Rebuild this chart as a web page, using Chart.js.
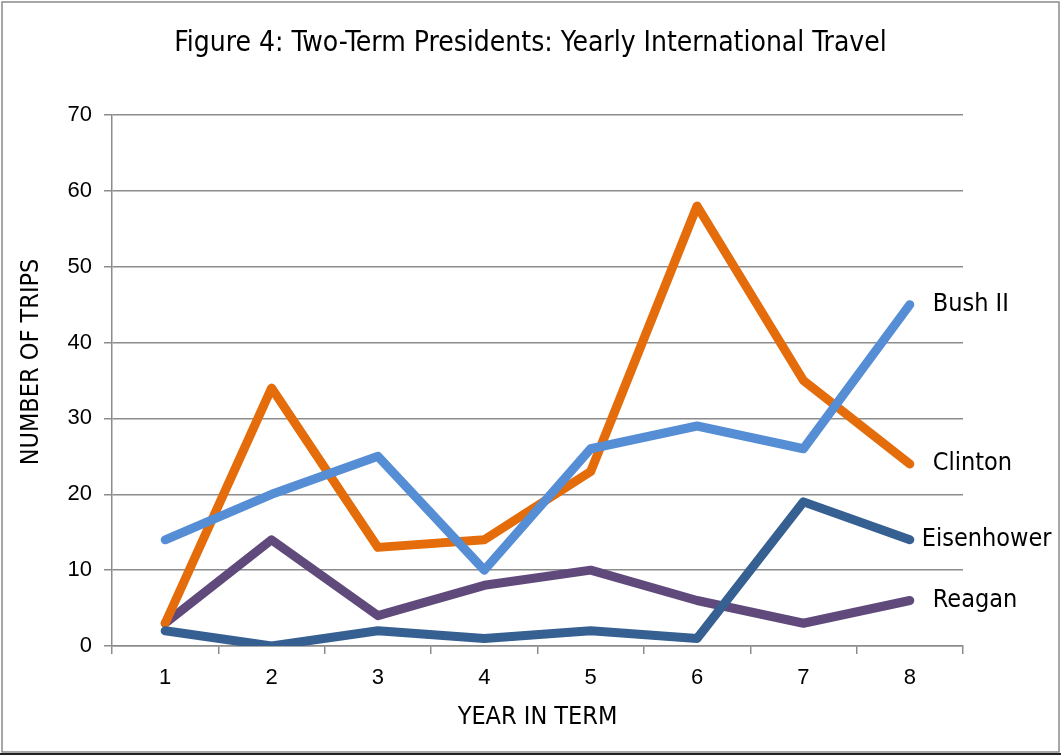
<!DOCTYPE html>
<html>
<head>
<meta charset="utf-8">
<title>Two-Term Presidents: Yearly International Travel</title>
<script src="https://cdn.jsdelivr.net/npm/chart.js@4.4.1/dist/chart.umd.min.js"></script>
<style>
    html, body { margin: 0; padding: 0; background: #ffffff; }
    #wrap { position: relative; width: 1061px; height: 756px; }
</style>
</head>
<body>
<div id="wrap"><canvas id="travelChart" width="1061" height="756"></canvas></div>
<script>
// Years of each two-term presidency
const years = ['1', '2', '3', '4', '5', '6', '7', '8'];

// International trips per year in office
const eisenhower = [2, 0, 2, 1, 2, 1, 19, 14];
const bush = [14, 20, 25, 10, 26, 29, 26, 45];
const clinton = [3, 34, 13, 14, 23, 58, 35, 24];
const reagan = [3, 14, 4, 8, 10, 6, 3, 6];

const yTicks = [0, 10, 20, 30, 40, 50, 60, 70];

const chartTitle = 'Figure 4: Two-Term Presidents: Yearly International Travel';
const yTitle = 'NUMBER OF TRIPS';

const narrowFont = "'DejaVu Sans Condensed', 'Liberation Sans', sans-serif";
const numFont = "'Liberation Sans', Arial, sans-serif";
const gridGray = '#8c8c8c';

// Figure title and the rotated y-axis title
const figureTexts = {
    id: 'figureTexts',
    afterDraw(chart) {
        const ctx = chart.ctx;
        ctx.save();
        ctx.fillStyle = '#000000';
        ctx.textAlign = 'center';
        ctx.textBaseline = 'middle';
        ctx.font = '28px ' + narrowFont;
        ctx.fillText(chartTitle, chart.width / 2, 44);

        ctx.font = '25px ' + narrowFont;
        ctx.translate(31, 362);
        ctx.rotate(-Math.PI / 2);
        ctx.fillText(yTitle, 0, 0);
        ctx.restore();
    }
};

// Draws each series name just right of its last point
const endLabels = {
    id: 'endLabels',
    afterDatasetsDraw(chart) {
        const ctx = chart.ctx;
        ctx.save();
        ctx.font = '25px ' + narrowFont;
        ctx.fillStyle = '#000000';
        ctx.textBaseline = 'middle';
        ctx.textAlign = 'left';
        chart.data.datasets.forEach((ds, i) => {
            const pts = chart.getDatasetMeta(i).data;
            const last = pts[pts.length - 1];
            ctx.fillText(ds.label, last.x + (ds.labelGap || 23), last.y);
        });
        ctx.restore();
    }
};

// Outer frame around the figure
const frame = {
    id: 'frame',
    afterDraw(chart) {
        const ctx = chart.ctx;
        ctx.save();
        ctx.strokeStyle = '#8a8a8a';
        ctx.lineWidth = 1.5;
        ctx.strokeRect(2, 2, chart.width - 4, chart.height - 6);
        ctx.strokeStyle = '#222222';
        ctx.lineWidth = 2;
        ctx.beginPath();
        ctx.moveTo(0, chart.height - 2);
        ctx.lineTo(chart.width, chart.height - 2);
        ctx.stroke();
        ctx.restore();
    }
};

const lineStyle = {
    borderWidth: 9,
    borderCapStyle: 'round',
    borderJoinStyle: 'round',
    pointRadius: 0,
    pointHoverRadius: 0,
    tension: 0,
    fill: false
};

new Chart(document.getElementById('travelChart'), {
    type: 'line',
    data: {
        labels: years,
        datasets: [
            Object.assign({ label: 'Eisenhower', data: eisenhower, borderColor: '#376092', labelGap: 12 }, lineStyle),
            Object.assign({ label: 'Bush II', data: bush, borderColor: '#558ed5' }, lineStyle),
            Object.assign({ label: 'Clinton', data: clinton, borderColor: '#e46c0a' }, lineStyle),
            Object.assign({ label: 'Reagan', data: reagan, borderColor: '#604a7b' }, lineStyle)
        ]
    },
    options: {
        responsive: false,
        animation: false,
        layout: {
            padding: { left: 18, right: 98, top: 115, bottom: 22 }
        },
        plugins: {
            legend: { display: false },
            tooltip: { enabled: false },
            title: { display: false }
        },
        scales: {
            x: {
                offset: true,
                grid: {
                    offset: true,
                    drawOnChartArea: false,
                    drawTicks: true,
                    tickLength: 8,
                    color: gridGray,
                    lineWidth: 1.5
                },
                border: { display: true, color: gridGray, width: 1.5 },
                ticks: {
                    color: '#000000',
                    font: { family: numFont, size: 22 },
                    padding: 11,
                    maxRotation: 0
                },
                title: {
                    display: true,
                    text: 'YEAR IN TERM',
                    color: '#000000',
                    font: { family: narrowFont, size: 25 },
                    padding: { top: 0, bottom: 2 }
                },
                afterFit(scale) { scale.height = 88; }
            },
            y: {
                min: 0,
                max: 70,
                afterBuildTicks(scale) { scale.ticks = yTicks.map(v => ({ value: v })); },
                grid: {
                    color: gridGray,
                    lineWidth: 1.5,
                    drawTicks: true,
                    tickLength: 8
                },
                border: { display: true, color: gridGray, width: 1.5 },
                ticks: {
                    color: '#000000',
                    font: { family: numFont, size: 22 },
                    padding: 12
                },
                title: { display: false },
                afterFit(scale) { scale.width = 94; }
            }
        }
    },
    plugins: [endLabels, figureTexts, frame]
});
</script>
</body>
</html>
